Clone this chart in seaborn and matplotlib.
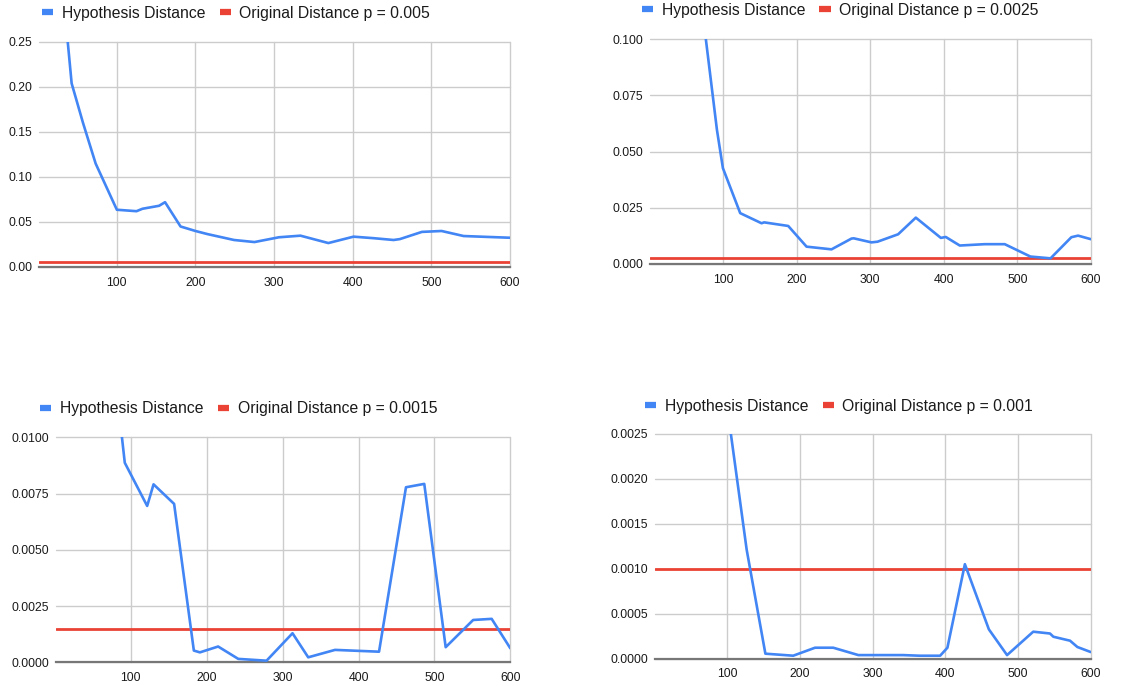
import matplotlib
matplotlib.use("Agg")
import matplotlib.pyplot as plt
from matplotlib.lines import Line2D
import seaborn as sns
import pandas as pd

# ---- data ----
x1 = [30, 42.5, 57, 73, 100, 125, 132.6, 153.7, 161.3, 181, 200, 215, 249, 275, 306, 333.5,
      369, 401, 426.6, 452, 460, 488, 513, 541, 575, 600]
y1 = [0.32, 0.204, 0.16, 0.115, 0.0636, 0.062, 0.0647, 0.068, 0.072, 0.045, 0.040, 0.0366,
      0.030, 0.0277, 0.033, 0.0348, 0.0266, 0.0337, 0.032, 0.030, 0.031, 0.039, 0.040,
      0.0344, 0.0333, 0.0325]
p1 = 0.005

x2 = [60, 91.9, 100, 123.5, 152.5, 156, 188.7, 213.6, 247.5, 274.7, 277.8, 301.8, 310, 338,
      362, 396, 402.7, 421.7, 455.6, 482.8, 517.6, 545, 573.3, 582.4, 600]
y2 = [0.145, 0.0596, 0.0426, 0.0226, 0.0181, 0.0185, 0.0169, 0.0077, 0.0065, 0.0113, 0.0114,
      0.0096, 0.0099, 0.0132, 0.0206, 0.0116, 0.0120, 0.0082, 0.0088, 0.0088, 0.0033, 0.0025,
      0.0119, 0.0126, 0.0110]
p2 = 0.0025

x3 = [80, 92, 121.5, 129.9, 157, 183, 191, 215, 241.5, 278.8, 313, 333.7, 369, 427, 462.5,
      486.6, 514.8, 551, 575.4, 600]
y3 = [0.0125, 0.00887, 0.00695, 0.00791, 0.00704, 0.00052, 0.00044, 0.00070, 0.00015, 0.00007,
      0.00129, 0.00022, 0.00055, 0.00047, 0.00778, 0.00793, 0.00067, 0.00188, 0.00193, 0.00062]
p3 = 0.0015

x4 = [90, 127, 152.7, 191, 221, 246, 280.6, 342, 365, 393, 403, 427, 460, 485, 521, 544,
      548.7, 571.6, 581.7, 600]
y4 = [0.0034, 0.00121, 0.0000556, 0.0000333, 0.000122, 0.000122, 0.00004, 0.00004, 0.000033,
      0.000033, 0.000122, 0.00105, 0.000326, 0.00004, 0.00030, 0.00028, 0.000244, 0.00020,
      0.00013, 0.000074]
p4 = 0.001

series_name = "Hypothesis Distance"
ref_name = "Original Distance p = "
x_ticks = [100, 200, 300, 400, 500, 600]
y_ticks1 = [0.00, 0.05, 0.10, 0.15, 0.20, 0.25]
y_labels1 = ["0.00", "0.05", "0.10", "0.15", "0.20", "0.25"]
y_ticks2 = [0.000, 0.025, 0.050, 0.075, 0.100]
y_labels2 = ["0.000", "0.025", "0.050", "0.075", "0.100"]
y_ticks3 = [0.0, 0.0025, 0.0050, 0.0075, 0.0100]
y_labels3 = ["0.0000", "0.0025", "0.0050", "0.0075", "0.0100"]
y_ticks4 = [0.0, 0.0005, 0.0010, 0.0015, 0.0020, 0.0025]
y_labels4 = ["0.0000", "0.0005", "0.0010", "0.0015", "0.0020", "0.0025"]
p_labels = ["0.005", "0.0025", "0.0015", "0.001"]

BLUE = "#4285F4"
RED = "#EA4335"

sns.set_theme(style="white")
plt.rcParams["font.family"] = ["Liberation Sans", "DejaVu Sans"]

fig = plt.figure(figsize=(11.44, 6.86), dpi=100)

panels = [
    (x1, y1, p1, y_ticks1, y_labels1, p_labels[0], [0.0341, 0.6108, 0.4117, 0.3280], (0.0367, 0.981)),
    (x2, y2, p2, y_ticks2, y_labels2, p_labels[1], [0.5682, 0.6152, 0.3855, 0.3279], (0.5609, 0.985)),
    (x3, y3, p3, y_ticks3, y_labels3, p_labels[2], [0.0487, 0.0346, 0.3974, 0.3279], (0.0350, 0.404)),
    (x4, y4, p4, y_ticks4, y_labels4, p_labels[3], [0.5726, 0.0398, 0.3808, 0.3280], (0.5638, 0.408)),
]

for xs, ys, p, yt, yl, plab, rect, leg_pos in panels:
    ax = fig.add_axes(rect)
    df = pd.DataFrame({"x": xs, "y": ys})
    ax.axhline(p, color=RED, lw=2.0, zorder=3)
    sns.lineplot(data=df, x="x", y="y", ax=ax, color=BLUE, lw=1.9, zorder=4, clip_on=True)
    ax.set_xlim(1, 600)
    ax.set_ylim(0, yt[-1])
    ax.set_xticks(x_ticks)
    ax.set_xticklabels([str(t) for t in x_ticks])
    ax.set_yticks(yt)
    ax.set_yticklabels(yl)
    ax.set_xlabel("")
    ax.set_ylabel("")
    ax.grid(True, color="#cccccc", lw=1.0)
    for gl in ax.get_xgridlines() + ax.get_ygridlines():
        gl.set_clip_on(False)
    ax.set_axisbelow(True)
    for s in ["top", "right", "left"]:
        ax.spines[s].set_visible(False)
    ax.spines["bottom"].set_color("#777777")
    ax.spines["bottom"].set_linewidth(1.6)
    ax.spines["bottom"].set_zorder(2)
    ax.tick_params(axis="both", length=0, labelsize=8.8, colors="#1a1a1a")
    ax.tick_params(axis="y", pad=5)
    ax.tick_params(axis="x", pad=7)
    handles = [Line2D([], [], color=BLUE, lw=4.5, solid_capstyle="butt"),
               Line2D([], [], color=RED, lw=4.5, solid_capstyle="butt")]
    fig.legend(handles, [series_name, ref_name + plab], loc="center left",
               bbox_to_anchor=leg_pos, ncol=2, frameon=False, fontsize=11.3,
               handlelength=0.72, handletextpad=0.55, columnspacing=0.9,
               borderpad=0, borderaxespad=0, labelcolor="#1a1a1a")

fig.savefig("out.png", dpi=100, facecolor="white")
